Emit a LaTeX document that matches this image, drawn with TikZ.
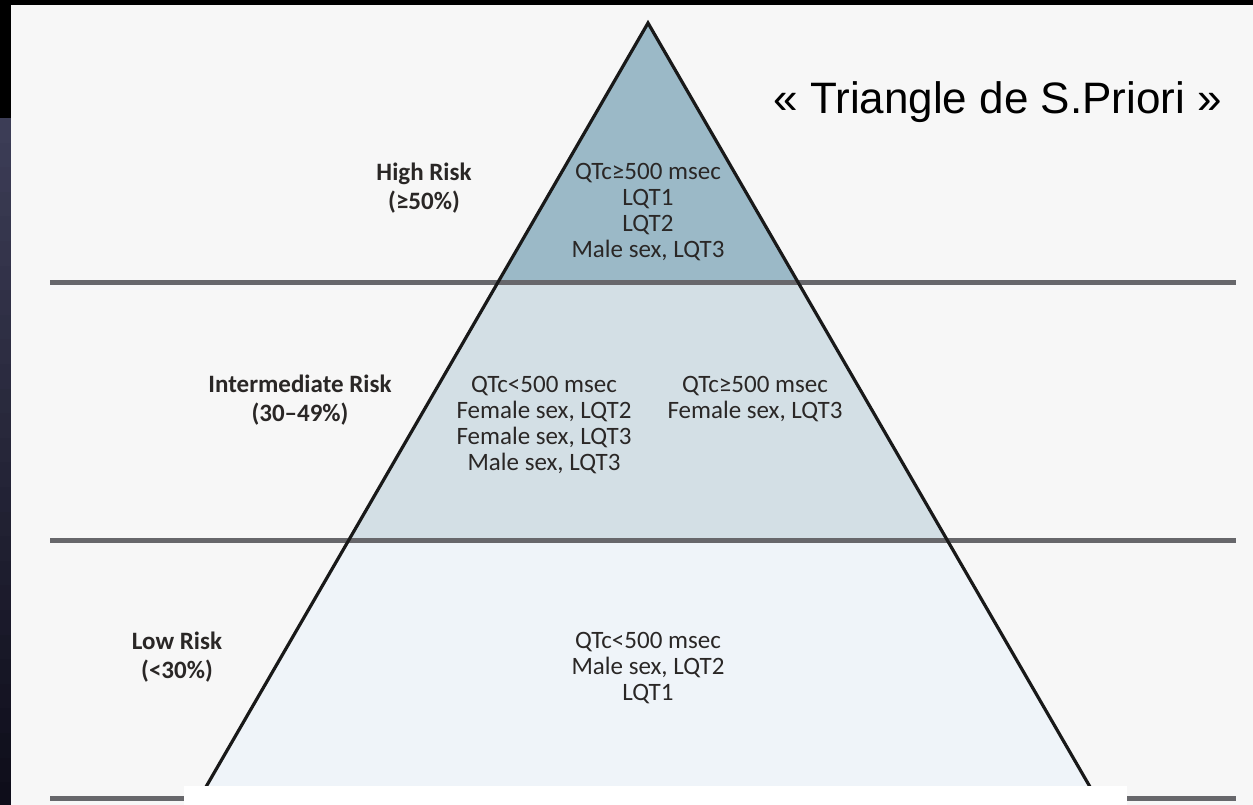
\documentclass[tikz,border=0pt]{standalone}
\usepackage{fontspec}
\setmainfont{Carlito}
\newfontfamily\titlefont{Liberation Sans}
\definecolor{paper}{HTML}{F7F7F7}
\definecolor{stripbot}{HTML}{3C3D56}
\definecolor{striptop}{HTML}{0E0D1A}
\definecolor{rule}{HTML}{67676B}
\definecolor{zhigh}{HTML}{9BB9C7}
\definecolor{zmid}{HTML}{D3DFE5}
\definecolor{zlow}{HTML}{EFF4F9}
\definecolor{ink}{HTML}{2A2726}
\begin{document}
\begin{tikzpicture}[x=1pt,y=-1pt,
  txt/.style={font=\fontsize{25}{26}\selectfont, text=ink, align=center, inner sep=0pt},
  lbl/.style={font=\fontsize{25}{29}\selectfont\bfseries, text=ink, align=center, inner sep=0pt},
  band/.style={line width=5pt, draw=rule},
  edge/.style={line width=3.2pt, draw=black!90, line join=miter}]
\useasboundingbox (0,0) rectangle (1253,805);
\fill[paper] (0,0) rectangle (1253,805);
\fill[black] (0,0) rectangle (1253,5);
\fill[black] (0,5) rectangle (11,118);
\foreach \i in {0,...,27} {
  \pgfmathsetmacro{\mix}{100-\i*100/27}
  \fill[stripbot!\mix!striptop] (0,{118+\i*24.6}) rectangle (11,{118+(\i+1)*24.6+0.5});
}
% triangle geometry
\coordinate (apex) at (648,23);
\coordinate (l1) at (498.1,282);
\coordinate (r1) at (797.9,282);
\coordinate (l2) at (348.8,540);
\coordinate (r2) at (947.2,540);
\coordinate (l3) at (195.5,805);
\coordinate (r3) at (1100.5,805);
\fill[zhigh] (apex) -- (r1) -- (l1) -- cycle;
\fill[zmid] (l1) -- (r1) -- (r2) -- (l2) -- cycle;
\fill[zlow] (l2) -- (r2) -- (r3) -- (l3) -- cycle;
% horizontal rules
\coordinate (a1) at (50,282);  \coordinate (b1) at (1236,282);
\coordinate (a2) at (50,540);  \coordinate (b2) at (1236,540);
\coordinate (a3) at (50,798);  \coordinate (b3) at (1236,798);
\draw[band] (a1) -- (b1);
\draw[band] (a2) -- (b2);
\draw[band] (a3) -- (b3);
% triangle outline
\draw[edge] (l3) -- (apex) -- (r3);
% white mask at the bottom
\fill[white] (184,786) rectangle (1127,805);
% title
\node[font=\titlefont\fontsize{44}{50}\selectfont, text=black, anchor=base east, inner sep=0pt] (title) at (1222,114) {« Triangle de S.Priori »};
% texts
\node[lbl] (hilbl) at (424,188) {High Risk\\(≥50\%)};
\node[txt] (hitxt) at (648,212) {QTc≥500 msec\\LQT1\\LQT2\\Male sex, LQT3};
\node[lbl] (midlbl) at (300,400) {Intermediate Risk\\(30–49\%)};
\node[txt] (midleft) at (544,425.5) {QTc<500 msec\\Female sex, LQT2\\Female sex, LQT3\\Male sex, LQT3};
\node[txt] (midright) at (755,399.5) {QTc≥500 msec\\Female sex, LQT3};
\node[lbl] (lowlbl) at (177,657.5) {Low Risk\\(<30\%)};
\node[txt] (lowtxt) at (648,668) {QTc<500 msec\\Male sex, LQT2\\LQT1};
\end{tikzpicture}
\end{document}
